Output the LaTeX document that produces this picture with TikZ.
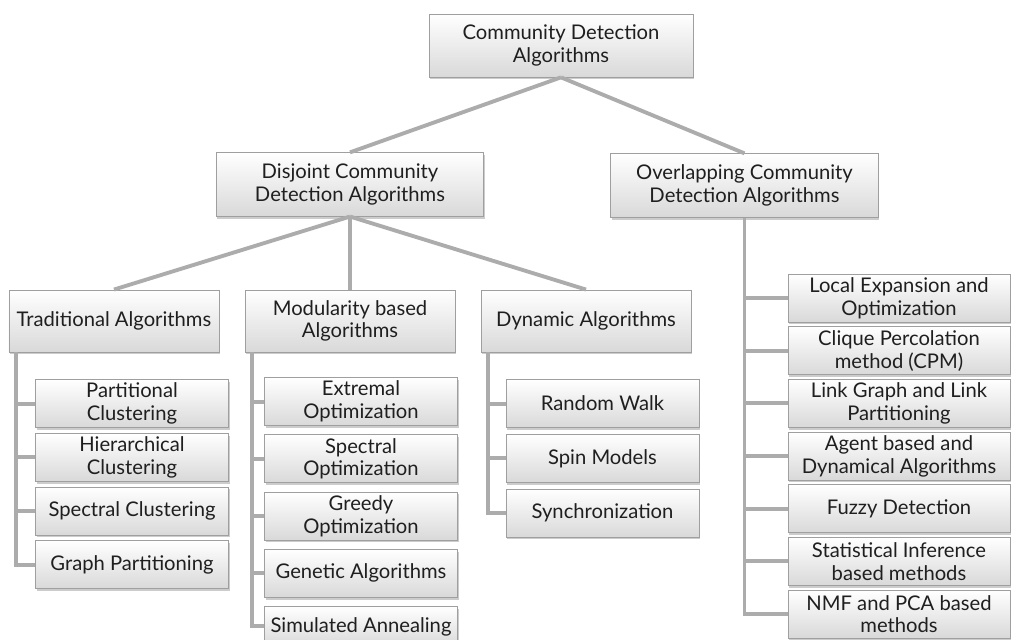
\documentclass[tikz,border=0pt]{standalone}
\usepackage{fontspec}
\setmainfont{Lato}
\usetikzlibrary{positioning,shadows}

\begin{document}
\begin{tikzpicture}[
    node distance=1.5cm,
    headbox/.style={rectangle, draw=gray!75, top color=white, bottom color=gray!30, drop shadow={opacity=0.4, shadow xshift=0.6pt, shadow yshift=-1.4pt}, text=black!88, align=center, inner sep=1pt, font=\fontsize{11.5}{13}\selectfont},
    rootbox/.style={headbox, minimum width=5.28cm, minimum height=1.26cm},
    classbox/.style={headbox, minimum width=5.35cm, minimum height=1.27cm},
    familybox/.style={headbox, minimum width=4.2cm, minimum height=1.24cm},
    methodbox/.style={headbox, minimum width=3.86cm, minimum height=0.96cm},
    widebox/.style={headbox, minimum width=4.44cm, minimum height=0.96cm},
    link/.style={draw=gray!65, line width=2.2pt}
]
    \useasboundingbox (0,0) rectangle (20.26,-12.78);

    % Root
    \node [rootbox] (cda) at (11.22,-0.91) {Community Detection\\Algorithms};

    % Two kinds of community
    \node [classbox, below=1.5cm of cda, xshift=-4.22cm] (dis) {Disjoint Community\\Detection Algorithms};
    \node [classbox, below=1.52cm of cda, xshift=3.67cm] (ovl) {Overlapping Community\\Detection Algorithms};

    % Disjoint families
    \node [familybox, below=1.46cm of dis, xshift=-4.72cm] (trad) {Traditional Algorithms};
    \node [familybox, below=1.46cm of dis] (mod) {Modularity based\\Algorithms};
    \node [familybox, below=1.46cm of dis, xshift=4.72cm] (dyn) {Dynamic Algorithms};

    % Traditional methods
    \node [methodbox, below=0.54cm of trad, xshift=0.36cm] (part) {Partitional\\Clustering};
    \node [methodbox, below=0.1cm of part] (hier) {Hierarchical\\Clustering};
    \node [methodbox, below=0.1cm of hier] (spcl) {Spectral Clustering};
    \node [methodbox, below=0.1cm of spcl] (gpart) {Graph Partitioning};

    % Modularity methods
    \node [methodbox, below=0.5cm of mod, xshift=0.22cm] (ext) {Extremal\\Optimization};
    \node [methodbox, below=0.17cm of ext] (spop) {Spectral\\Optimization};
    \node [methodbox, below=0.17cm of spop] (greedy) {Greedy\\Optimization};
    \node [methodbox, below=0.17cm of greedy] (gen) {Genetic Algorithms};
    \node [methodbox, below=0.17cm of gen, minimum height=0.8cm] (sim) {Simulated Annealing};

    % Dynamic methods
    \node [methodbox, below=0.54cm of dyn, xshift=0.33cm] (rw) {Random Walk};
    \node [methodbox, below=0.12cm of rw] (spin) {Spin Models};
    \node [methodbox, below=0.12cm of spin] (sync) {Synchronization};

    % Overlapping methods
    \node [widebox, below=1.12cm of ovl, xshift=3.09cm] (lexp) {Local Expansion and\\Optimization};
    \node [widebox, below=0.08cm of lexp] (cpm) {Clique Percolation\\method (CPM)};
    \node [widebox, below=0.08cm of cpm] (lgraph) {Link Graph and Link\\Partitioning};
    \node [widebox, below=0.08cm of lgraph] (agent) {Agent based and\\Dynamical Algorithms};
    \node [widebox, below=0.08cm of agent] (fuzzy) {Fuzzy Detection};
    \node [widebox, below=0.08cm of fuzzy] (stat) {Statistical Inference\\based methods};
    \node [widebox, below=0.08cm of stat] (nmf) {NMF and PCA based\\methods};

    % Bus tops
    \coordinate (tradbus) at ([xshift=0.14cm]trad.south west);
    \coordinate (modbus) at ([xshift=0.14cm]mod.south west);
    \coordinate (dynbus) at ([xshift=0.14cm]dyn.south west);

    % Upper links
    \draw [link] (cda.south) -- (dis.north);
    \draw [link] (cda.south) -- (ovl.north);
    \draw [link] (dis.south) -- (trad.north);
    \draw [link] (dis.south) -- (mod.north);
    \draw [link] (dis.south) -- (dyn.north);

    % Elbow links
    \draw [link] (tradbus) |- (part.west);
    \draw [link] (tradbus) |- (hier.west);
    \draw [link] (tradbus) |- (spcl.west);
    \draw [link] (tradbus) |- (gpart.west);
    \draw [link] (modbus) |- (ext.west);
    \draw [link] (modbus) |- (spop.west);
    \draw [link] (modbus) |- (greedy.west);
    \draw [link] (modbus) |- (gen.west);
    \draw [link] (modbus) |- (sim.west);
    \draw [link] (dynbus) |- (rw.west);
    \draw [link] (dynbus) |- (spin.west);
    \draw [link] (dynbus) |- (sync.west);
    \draw [link] (ovl.south) |- (lexp.west);
    \draw [link] (ovl.south) |- (cpm.west);
    \draw [link] (ovl.south) |- (lgraph.west);
    \draw [link] (ovl.south) |- (agent.west);
    \draw [link] (ovl.south) |- (fuzzy.west);
    \draw [link] (ovl.south) |- (stat.west);
    \draw [link] (ovl.south) |- (nmf.west);
\end{tikzpicture}
\end{document}
